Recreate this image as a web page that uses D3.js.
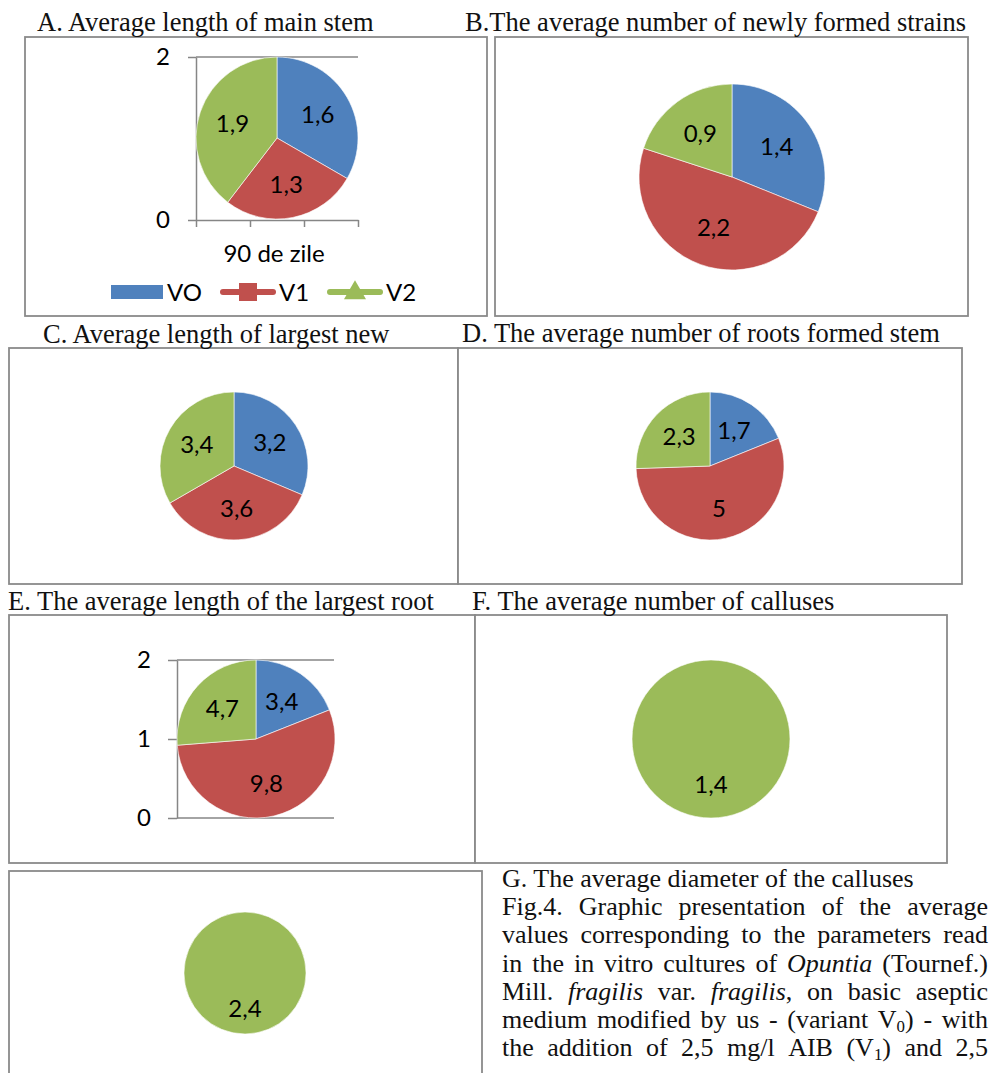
<!DOCTYPE html>
<html>
<head>
<meta charset="utf-8">
<script src="https://cdn.jsdelivr.net/npm/d3@7"></script>
<style>
  body { margin: 0; background: #fff; }
  svg { display: block; }
</style>
</head>
<body>
<svg id="fig" width="995" height="1073"></svg>
<script>
// ---- data -------------------------------------------------------------
const variants = ["VO", "V1", "V2"];
const variantColors = ["#4F81BD", "#C0504D", "#9BBB59"];

const mainStemLength    = [1.6, 1.3, 1.9];
const newStrainCount    = [1.4, 2.2, 0.9];
const largestNewLength  = [3.2, 3.6, 3.4];
const rootCount         = [1.7, 5, 2.3];
const largestRootLength = [3.4, 9.8, 4.7];
const callusCount       = [null, null, 1.4];
const callusDiameter    = [null, null, 2.4];

const axisTicksA = [0, 2];
const axisTicksE = [0, 1, 2];
const axisCategoryTicks = [0, 1, 2, 3];
const xAxisTitle = "90 de zile";

const panelTitles = [
  "A. Average length of main stem",
  "B.The average number of newly formed strains",
  "C. Average length of largest new",
  "D. The average number of roots formed stem",
  "E. The average length of the largest root",
  "F. The average number of calluses"
];
const captionHeading = "G. The average diameter of the calluses";
// *...* = italic, _x = subscript
const captionLines = [
  "Fig.4. Graphic presentation of the average",
  "values corresponding to the parameters read",
  "in the in vitro cultures of *Opuntia* (Tournef.)",
  "Mill. *fragilis* var. *fragilis*, on basic aseptic",
  "medium modified by us - (variant V_0) - with",
  "the addition of 2,5 mg/l AIB (V_1) and 2,5"
];

// ---- layout ------------------------------------------------------------
const SERIF = "'Liberation Serif', 'Times New Roman', serif";
const SANS = "Lato, Carlito, Calibri, sans-serif";
const SANS_SIZE = 24;
const BORDER = "#8a8a8a";
const AXIS = "#868686";

const svg = d3.select("#fig");
const fmt = d3.formatLocale({decimal: ",", thousands: ".", grouping: [3], currency: ["", ""]}).format(".2~g");

const panels = [
  {values: mainStemLength,    title: panelTitles[0], tx: 37,  ty: 31,  box: [25, 37, 487, 316],   cx: 277, cy: 138, r: 81},
  {values: newStrainCount,    title: panelTitles[1], tx: 465, ty: 31,  box: [495, 37, 968, 316],  cx: 732, cy: 177, r: 93},
  {values: largestNewLength,  title: panelTitles[2], tx: 43,  ty: 343, box: [9, 348, 458, 584],   cx: 234, cy: 466, r: 74},
  {values: rootCount,         title: panelTitles[3], tx: 462, ty: 342, box: [458, 348, 962, 584], cx: 710, cy: 466, r: 74},
  {values: largestRootLength, title: panelTitles[4], tx: 8,   ty: 610, box: [9, 615, 475, 863],   cx: 256, cy: 739, r: 79},
  {values: callusCount,       title: panelTitles[5], tx: 472, ty: 610, box: [475, 615, 947, 863], cx: 711, cy: 739, r: 79},
  {values: callusDiameter,    title: null,           tx: 0,   ty: 0,   box: [9, 871, 482, 1090],  cx: 245, cy: 973, r: 61}
];

// frames
panels.forEach(p => {
  const [x0, y0, x1, y1] = p.box;
  svg.append("rect")
    .attr("x", x0).attr("y", y0).attr("width", x1 - x0).attr("height", y1 - y0)
    .attr("fill", "#fff").attr("stroke", BORDER).attr("stroke-width", 1.8);
});

// titles
panels.filter(p => p.title).forEach(p => {
  svg.append("text")
    .attr("x", p.tx).attr("y", p.ty)
    .attr("font-family", SERIF).attr("font-size", 26.5).attr("fill", "#111")
    .text(p.title);
});

// ---- axes of panel A ----------------------------------------------------
function styleAxis(g) {
  g.selectAll("path, line").attr("stroke", AXIS).attr("stroke-width", 1.5);
  g.selectAll("text").attr("font-family", SANS).attr("font-size", SANS_SIZE).attr("fill", "#000");
}
{
  const y = d3.scaleLinear().domain([0, 2]).range([220, 57]);
  const x = d3.scaleLinear().domain([0, 3]).range([196, 358]);
  svg.append("g").selectAll("line").data(axisTicksA.filter(t => t > 0)).join("line")
    .attr("x1", 196).attr("x2", 358).attr("y1", d => y(d)).attr("y2", d => y(d))
    .attr("stroke", AXIS).attr("stroke-width", 1.5);
  svg.append("g").attr("transform", "translate(196,0)")
    .call(d3.axisLeft(y).tickValues(axisTicksA).tickSize(8).tickSizeOuter(0).tickPadding(18).tickFormat(d3.format("d")))
    .call(styleAxis);
  svg.append("g").attr("transform", "translate(0,220)")
    .call(d3.axisBottom(x).tickValues(axisCategoryTicks).tickSize(7).tickSizeOuter(0).tickFormat(() => ""))
    .call(styleAxis);
  svg.append("text").attr("x", 274).attr("y", 262).attr("text-anchor", "middle")
    .attr("font-family", SANS).attr("font-size", SANS_SIZE).text(xAxisTitle);
}

// ---- axes of panel E ----------------------------------------------------
{
  const y = d3.scaleLinear().domain([0, 2]).range([818, 660]);
  svg.append("g").selectAll("line").data(axisTicksE).join("line")
    .attr("x1", 177).attr("x2", 334).attr("y1", d => y(d)).attr("y2", d => y(d))
    .attr("stroke", AXIS).attr("stroke-width", 1.5);
  svg.append("g").attr("transform", "translate(177,0)")
    .call(d3.axisLeft(y).tickValues(axisTicksE).tickSize(9).tickSizeOuter(0).tickPadding(17).tickFormat(d3.format("d")))
    .call(styleAxis);
}

// ---- pies ---------------------------------------------------------------
const pie = d3.pie().sort(null).value(d => d.v ?? 0);
panels.forEach(p => {
  const rows = p.values.map((v, i) => ({v, i}));
  const arcs = pie(rows).filter(a => a.data.v);
  const arc = d3.arc().innerRadius(0).outerRadius(p.r);
  const g = svg.append("g").attr("transform", `translate(${p.cx},${p.cy})`);
  g.selectAll("path").data(arcs).join("path")
    .attr("d", arc)
    .attr("fill", d => variantColors[d.data.i])
    .attr("stroke", "#fff").attr("stroke-width", 0.6);
  const k = 0.58 * p.r;
  g.selectAll("text").data(arcs).join("text")
    .attr("transform", d => {
      const m = (d.startAngle + d.endAngle) / 2;
      return `translate(${Math.sin(m) * k},${-Math.cos(m) * k})`;
    })
    .attr("text-anchor", "middle").attr("dy", "0.36em")
    .attr("font-family", SANS).attr("font-size", SANS_SIZE).attr("fill", "#000")
    .text(d => fmt(d.data.v));
});

// ---- legend of panel A --------------------------------------------------
{
  const lg = svg.append("g").attr("font-family", SANS).attr("font-size", SANS_SIZE);
  const cy = 292;
  // VO: filled box
  lg.append("rect").attr("x", 111).attr("y", cy - 7).attr("width", 52).attr("height", 14).attr("fill", variantColors[0]);
  lg.append("text").attr("x", 167).attr("y", cy).attr("dy", "0.36em").text(variants[0]);
  // V1: line with square marker
  lg.append("line").attr("x1", 223).attr("x2", 273).attr("y1", cy).attr("y2", cy)
    .attr("stroke", variantColors[1]).attr("stroke-width", 6).attr("stroke-linecap", "round");
  lg.append("rect").attr("x", 239).attr("y", cy - 9).attr("width", 18).attr("height", 18).attr("fill", variantColors[1]);
  lg.append("text").attr("x", 279).attr("y", cy).attr("dy", "0.36em").text(variants[1]);
  // V2: line with triangle marker
  lg.append("line").attr("x1", 330).attr("x2", 380).attr("y1", cy).attr("y2", cy)
    .attr("stroke", variantColors[2]).attr("stroke-width", 6).attr("stroke-linecap", "round");
  lg.append("path").attr("d", d3.symbol(d3.symbolTriangle, 210)()).attr("transform", `translate(355,${cy + 1})`)
    .attr("fill", variantColors[2]);
  lg.append("text").attr("x", 386).attr("y", cy).attr("dy", "0.36em").text(variants[2]);
}

// ---- caption ------------------------------------------------------------
{
  const x0 = 502, width = 486, fs = 26, lead = 28.2, base = 887;
  const cap = svg.append("g").attr("transform", `translate(${x0},0)`)
    .attr("font-family", SERIF).attr("font-size", fs).attr("fill", "#111");
  cap.append("text").attr("x", 0).attr("y", base).text(captionHeading);

  function addWord(parent, word) {
    const t = parent.append("text");
    const parts = word.split(/(\*[^*]+\*|_\d)/).filter(s => s.length);
    let shifted = false;
    parts.forEach(s => {
      let ts;
      if (s.startsWith("*")) {
        ts = t.append("tspan").attr("font-style", "italic").text(s.slice(1, -1));
      } else if (s.startsWith("_")) {
        t.append("tspan").attr("font-size", fs * 0.65).attr("dy", 4).text(s.slice(1));
        shifted = true;
        return;
      } else {
        ts = t.append("tspan").text(s);
      }
      if (shifted) { ts.attr("dy", -4); shifted = false; }
    });
    return t;
  }

  captionLines.forEach((line, li) => {
    const y = base + lead * (li + 1);
    const words = line.split(" ");
    const nodes = words.map(w => addWord(cap, w).attr("y", y));
    const widths = nodes.map(n => n.node().getComputedTextLength());
    const gap = (width - d3.sum(widths)) / (words.length - 1);
    let x = 0;
    nodes.forEach((n, i) => { n.attr("x", x); x += widths[i] + gap; });
  });
}
</script>
</body>
</html>
